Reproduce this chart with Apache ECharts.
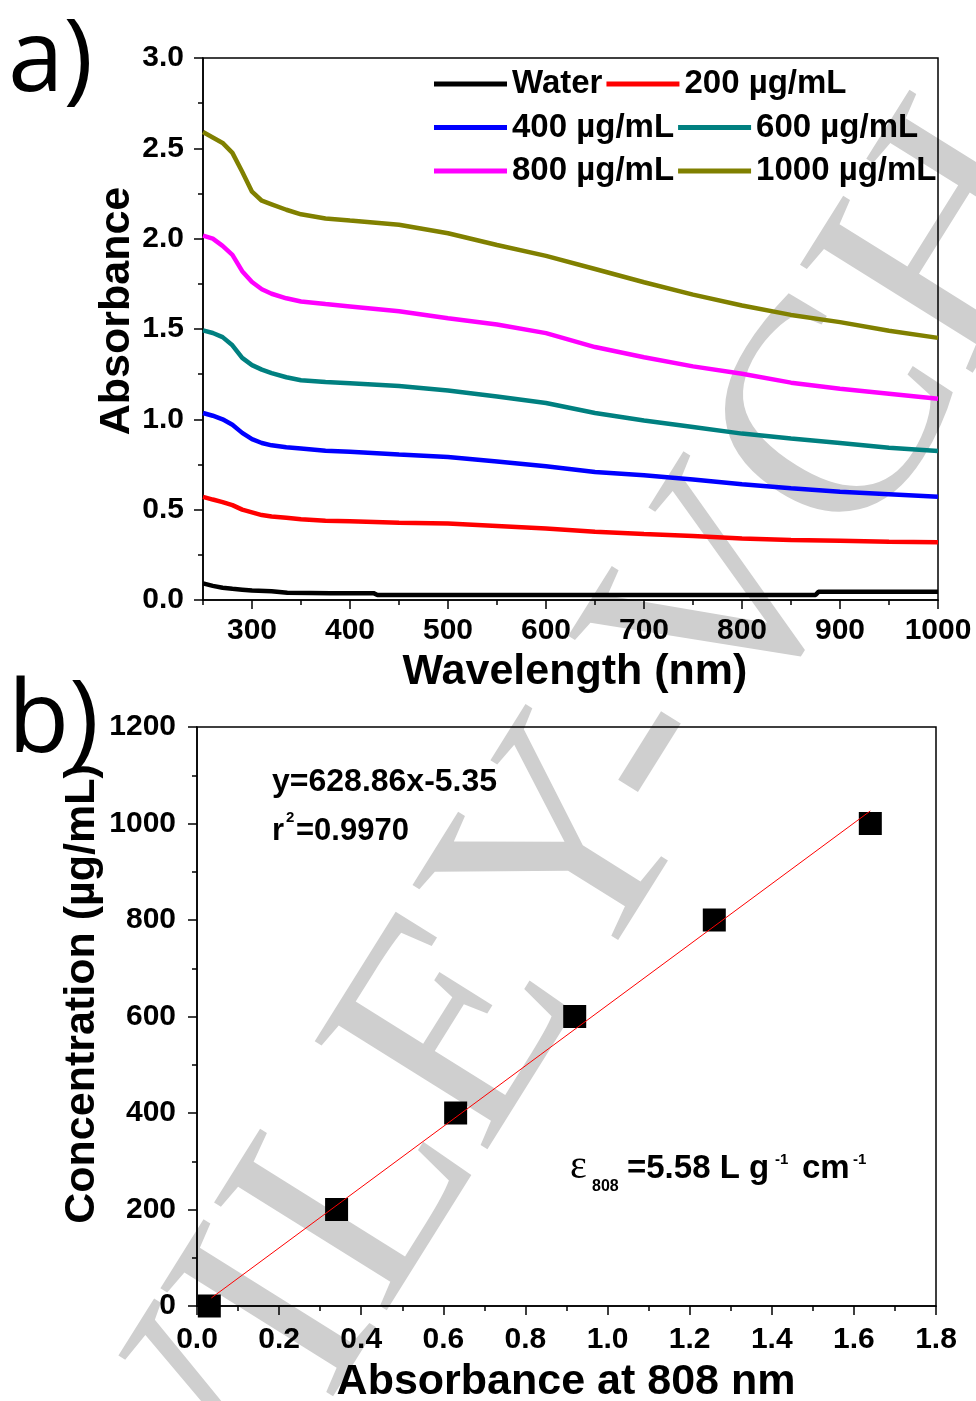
<!DOCTYPE html>
<html>
<head>
<meta charset="utf-8">
<script src="https://cdn.jsdelivr.net/npm/echarts@6/dist/echarts.min.js"></script>
<style>
  html, body { margin: 0; padding: 0; background: #ffffff; }
  #chart { width: 976px; height: 1401px; }
</style>
</head>
<body>
<div id="chart"></div>
<script>
// Panel a: UV-Vis-NIR absorbance spectra (wavelength in nm)
const wavelength = [250, 260, 270, 280, 290, 300, 310, 320, 335, 350, 375, 400, 450, 500, 550, 600, 650, 700, 750, 800, 850, 900, 950, 1000];
const abs200  = [0.571, 0.556, 0.542, 0.525, 0.500, 0.485, 0.470, 0.462, 0.455, 0.447, 0.439, 0.436, 0.427, 0.424, 0.410, 0.396, 0.378, 0.365, 0.354, 0.341, 0.332, 0.328, 0.322, 0.319];
const abs400  = [1.035, 1.020, 1.000, 0.970, 0.925, 0.890, 0.869, 0.856, 0.845, 0.838, 0.826, 0.820, 0.805, 0.792, 0.767, 0.740, 0.709, 0.690, 0.667, 0.641, 0.618, 0.599, 0.586, 0.571];
const abs600  = [1.492, 1.478, 1.455, 1.410, 1.340, 1.300, 1.275, 1.256, 1.233, 1.216, 1.207, 1.200, 1.184, 1.160, 1.126, 1.090, 1.035, 0.994, 0.958, 0.921, 0.894, 0.869, 0.843, 0.825];
const abs800  = [2.017, 2.000, 1.960, 1.910, 1.820, 1.760, 1.720, 1.695, 1.670, 1.652, 1.638, 1.625, 1.598, 1.560, 1.525, 1.477, 1.400, 1.344, 1.293, 1.252, 1.203, 1.169, 1.142, 1.114];
const abs1000 = [2.590, 2.560, 2.530, 2.475, 2.370, 2.260, 2.210, 2.190, 2.160, 2.135, 2.112, 2.100, 2.077, 2.030, 1.965, 1.905, 1.832, 1.759, 1.690, 1.630, 1.578, 1.538, 1.490, 1.451];
const waterNm  = [250, 260, 270, 280, 290, 300, 320, 336, 360, 380, 400, 424, 428, 500, 600, 700, 800, 875, 878, 1000];
const waterAbs = [0.092, 0.078, 0.068, 0.062, 0.057, 0.052, 0.048, 0.040, 0.039, 0.038, 0.038, 0.038, 0.028, 0.028, 0.028, 0.028, 0.028, 0.028, 0.045, 0.045];

const seriesNames  = ['Water', '200 µg/mL', '400 µg/mL', '600 µg/mL', '800 µg/mL', '1000 µg/mL'];
const seriesColors = ['#000000', '#ff0000', '#0000ff', '#008080', '#ff00ff', '#808000'];

const wavelengthTicks = [300, 400, 500, 600, 700, 800, 900, 1000];
const wavelengthMinor = [250, 350, 450, 550, 650, 750, 850, 950];

// Panel b: calibration of concentration against absorbance at 808 nm
const absAt808      = [0.03, 0.34, 0.63, 0.92, 1.26, 1.64];
const concentration = [0, 200, 400, 600, 800, 1000];
const fitSlope = 628.86;
const fitIntercept = -5.35;
const fitRange = [0.035, 1.64];

const FONT = "'Liberation Sans', Arial, sans-serif";
const pairs = (xs, ys) => xs.map((x, i) => [x, ys[i]]);

const axisLineStyle = { color: '#000', width: 1.5 };
const labelStyle = { fontFamily: FONT, fontSize: 30, fontWeight: 'bold', color: '#000' };

const spectra = [
  [waterNm, waterAbs],
  [wavelength, abs200],
  [wavelength, abs400],
  [wavelength, abs600],
  [wavelength, abs800],
  [wavelength, abs1000]
];

const legendRow = (names, top) => ({
  data: names,
  left: 434,
  top: top,
  orient: 'horizontal',
  padding: 0,
  itemGap: 4,
  itemWidth: 73,
  itemHeight: 5,
  icon: 'rect',
  selectedMode: false,
  textStyle: { fontFamily: FONT, fontSize: 33, fontWeight: 'bold', color: '#000' }
});

const titleText = (text, x, y, rot) => ({
  type: 'text', x: x, y: y, rotation: rot || 0, z: 10,
  style: { text: text, fontFamily: FONT, fontSize: 43, fontWeight: 'bold', fill: '#000', align: 'center', verticalAlign: 'middle' }
});
const plainText = (text, x, y, size, family, weight, align) => ({
  type: 'text', x: x, y: y, z: 10,
  style: { text: text, fontFamily: family || FONT, fontSize: size, fontWeight: weight || 'bold', fill: '#000', align: align || 'left', verticalAlign: 'middle' }
});

const option = {
  animation: false,
  backgroundColor: '#ffffff',
  grid: [
    { left: 203, top: 58, width: 735, height: 542, show: true, borderColor: '#000', borderWidth: 1.5, backgroundColor: 'transparent', containLabel: false, outerBoundsMode: 'none' },
    { left: 197, top: 727, width: 739, height: 579, show: true, borderColor: '#000', borderWidth: 1.5, backgroundColor: 'transparent', containLabel: false, outerBoundsMode: 'none' }
  ],
  xAxis: [
    {
      gridIndex: 0, type: 'value', min: 250, max: 1000, position: 'bottom',
      axisLine: { show: true, lineStyle: axisLineStyle },
      axisTick: { show: true, customValues: wavelengthTicks, length: 9, inside: false, lineStyle: axisLineStyle },
      axisLabel: Object.assign({ customValues: wavelengthTicks, margin: 16, formatter: v => String(v) }, labelStyle),
      splitLine: { show: false }
    },
    {
      gridIndex: 0, type: 'value', min: 250, max: 1000, position: 'bottom',
      axisLine: { show: false },
      axisTick: { show: true, customValues: wavelengthMinor, length: 5, inside: false, lineStyle: axisLineStyle },
      axisLabel: { show: false },
      splitLine: { show: false }
    },
    {
      gridIndex: 1, type: 'value', min: 0, max: 1.8, interval: 0.2, position: 'bottom',
      axisLine: { show: true, lineStyle: axisLineStyle },
      axisTick: { show: true, length: 9, lineStyle: axisLineStyle },
      minorTick: { show: true, splitNumber: 2, length: 5, lineStyle: axisLineStyle },
      axisLabel: Object.assign({ margin: 19, formatter: v => v.toFixed(1) }, labelStyle),
      splitLine: { show: false }, minorSplitLine: { show: false }
    }
  ],
  yAxis: [
    {
      gridIndex: 0, type: 'value', min: 0, max: 3, interval: 0.5, position: 'left',
      axisLine: { show: true, lineStyle: axisLineStyle },
      axisTick: { show: true, length: 9, lineStyle: axisLineStyle },
      minorTick: { show: true, splitNumber: 2, length: 5, lineStyle: axisLineStyle },
      axisLabel: Object.assign({ margin: 19, formatter: v => v.toFixed(1) }, labelStyle),
      splitLine: { show: false }, minorSplitLine: { show: false }
    },
    {
      gridIndex: 1, type: 'value', min: 0, max: 1200, interval: 200, position: 'left',
      axisLine: { show: true, lineStyle: axisLineStyle },
      axisTick: { show: true, length: 9, lineStyle: axisLineStyle },
      minorTick: { show: true, splitNumber: 2, length: 5, lineStyle: axisLineStyle },
      axisLabel: Object.assign({ margin: 21, formatter: v => String(v) }, labelStyle),
      splitLine: { show: false }, minorSplitLine: { show: false }
    }
  ],
  legend: [
    legendRow([seriesNames[0], seriesNames[1]], 67.5),
    legendRow([seriesNames[2], seriesNames[3]], 111),
    legendRow([seriesNames[4], seriesNames[5]], 154.5)
  ],
  series: spectra.map((s, i) => ({
    type: 'line',
    name: seriesNames[i],
    xAxisIndex: 0, yAxisIndex: 0,
    data: pairs(s[0], s[1]),
    showSymbol: false, symbol: 'none',
    color: seriesColors[i],
    itemStyle: { color: seriesColors[i] },
    lineStyle: { width: 4.5, color: seriesColors[i] },
    z: 3
  })).concat([
    {
      type: 'scatter', name: 'Concentration',
      xAxisIndex: 2, yAxisIndex: 1,
      data: pairs(absAt808, concentration),
      symbol: 'rect', symbolSize: 23,
      itemStyle: { color: '#000', opacity: 1 },
      clip: false, z: 3
    },
    {
      type: 'line', name: 'Linear fit',
      xAxisIndex: 2, yAxisIndex: 1,
      data: fitRange.map(x => [x, fitSlope * x + fitIntercept]),
      symbol: 'none', showSymbol: false,
      lineStyle: { color: '#ff0000', width: 1 },
      z: 4
    }
  ]),
  graphic: [
    // publisher watermark behind the plots
    {
      type: 'text', x: 560, y: 879, rotation: 58 * Math.PI / 180, z: -10, silent: true,
      style: { text: 'WILEY-VCH', fontFamily: "'Liberation Serif', 'DejaVu Serif', serif", fontSize: 311, fill: '#cfcfcf', align: 'center', verticalAlign: 'middle' }
    },
    // panel labels
    plainText('a)', 8, 63, 100, "'Open Sans', Lato, sans-serif", 'normal'),
    plainText('b)', 8, 724, 100, "'Open Sans', Lato, sans-serif", 'normal'),
    // axis titles
    titleText('Absorbance', 117, 311, Math.PI / 2),
    titleText('Wavelength (nm)', 575, 672),
    titleText('Concentration (µg/mL)', 82, 994, Math.PI / 2),
    titleText('Absorbance at 808 nm', 566, 1382),
    // fit annotations
    plainText('y=628.86x-5.35', 272, 782, 32),
    plainText('r', 272, 831, 31),
    plainText('2', 286, 818, 15),
    plainText('=0.9970', 296, 831, 31),
    plainText('ε', 570, 1167, 40, "'Liberation Serif', serif", 'normal'),
    plainText('808', 592, 1187, 16),
    plainText('=5.58 L g', 627, 1169, 33),
    plainText('-1', 775, 1160, 15),
    plainText('cm', 802, 1169, 33),
    plainText('-1', 853, 1160, 15)
  ]
};

const chart = echarts.init(document.getElementById('chart'), null, { renderer: 'canvas', width: 976, height: 1401 });
chart.setOption(option);
</script>
</body>
</html>
